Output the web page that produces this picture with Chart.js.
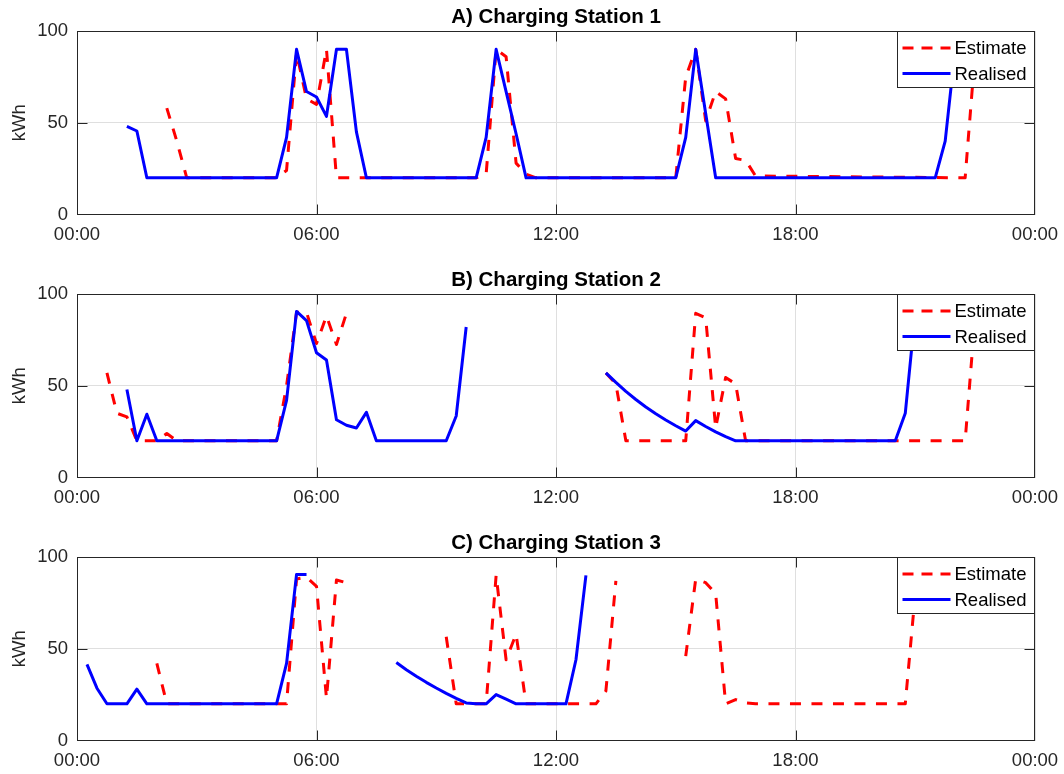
<!DOCTYPE html>
<html>
<head>
<meta charset="utf-8">
<title>Charging stations</title>
<script src="https://cdn.jsdelivr.net/npm/chart.js@4.4.1/dist/chart.umd.min.js"></script>
<style>
  body { margin: 0; background: #fff; }
  #wrap { position: relative; width: 1064px; height: 774px; }
  #wrap canvas { position: absolute; left: 0; }
</style>
</head>
<body>
<div id="wrap">
  <canvas id="chartA" width="1064" height="263" style="top:0px"></canvas>
  <canvas id="chartB" width="1064" height="263" style="top:263px"></canvas>
  <canvas id="chartC" width="1064" height="263" style="top:526px"></canvas>
</div>
<script>
// =================================================================
// 1. DATA (time in hours of the day, energy in kWh, null = gap)
// =================================================================
const panelTitles = ['A) Charging Station 1', 'B) Charging Station 2', 'C) Charging Station 3'];
const seriesNames = ['Estimate', 'Realised'];
const xTickHours = [0, 6, 12, 18, 24];
const xTickLabels = ['00:00', '06:00', '12:00', '18:00', '00:00'];
const yTicks = [0, 50, 100];
const yLabel = 'kWh';

// Station 1
const s1EstTime  = [2.25, 2.5, 2.75, 5.0, 5.25, 5.5, 5.75, 6.0, 6.25, 6.5, 10.0, 10.25, 10.5, 10.75, 11.0, 11.25, 11.5, 15.0, 15.25, 15.5, 15.75, 16.0, 16.25, 16.5, 16.75, 17.0, 22.25, 22.5];
const s1EstValue = [58, 40, 20, 20, 24, 88, 63, 60, 90, 20, 20, 22, 90, 86, 28, 22, 20, 20, 75, 90, 51, 67, 63, 30.5, 29.5, 21, 20, 88];
const s1RealTime  = [1.25, 1.5, 1.75, 5.0, 5.25, 5.5, 5.75, 6.0, 6.25, 6.5, 6.75, 7.0, 7.25, 10.0, 10.25, 10.5, 10.75, 11.0, 11.25, 15.0, 15.25, 15.5, 15.75, 16.0, 21.5, 21.75, 22.0];
const s1RealValue = [48, 45.5, 20, 20, 42, 90, 67, 64, 53.5, 90, 90, 45, 20, 20, 42, 90, 67, 44, 20, 20, 42, 90, 55, 20, 20, 40, 90];

// Station 2
const s2EstTime  = [0.75, 1.0, 1.25, 1.5, 2.0, 2.25, 2.5, 5.0, 5.25, 5.5, 5.75, 6.0, 6.25, 6.5, 6.75, 10.0, 13.25, 13.5, 13.75, 15.25, 15.5, 15.75, 16.0, 16.25, 16.5, 16.75, 22.25, 22.5];
const s2EstValue = [57, 35, 33, 20, 20, 24, 20, 20, 50, 90, 90, 73, 88, 72.5, 89.5, null, 57, 51, 20, 20, 89.5, 87, 27, 54.5, 51, 20, 20, 88];
const s2RealTime  = [1.25, 1.5, 1.75, 2.0, 5.0, 5.25, 5.5, 5.75, 6.0, 6.25, 6.5, 6.75, 7.0, 7.25, 7.5, 9.25, 9.5, 9.75, 11.0, 13.25, 13.5, 13.75, 14.0, 14.25, 14.5, 14.75, 15.0, 15.25, 15.5, 15.75, 16.0, 16.25, 16.5, 20.5, 20.75, 21.0];
const s2RealValue = [48, 20, 34.5, 20, 20, 42, 90.5, 85.5, 68, 64, 31.5, 28.5, 27, 35.5, 20, 20, 33.5, 82, null, 57, 51.8, 46.9, 42.5, 38.4, 34.7, 31.3, 28.2, 25.3, 31, 27.8, 24.9, 22.3, 20, 20, 35, 90];

// Station 3
const s3EstTime  = [2.0, 2.25, 5.0, 5.25, 5.5, 5.75, 6.0, 6.25, 6.5, 6.75, 8.0, 9.25, 9.5, 10.25, 10.5, 10.75, 11.0, 11.25, 13.0, 13.25, 13.5, 14.5, 15.25, 15.5, 15.75, 16.0, 16.25, 16.5, 16.75, 17.0, 20.75, 21.0];
const s3EstValue = [42, 20, 20, 20, 88, 89, 84, 23, 87.5, 86, null, 56.5, 20, 20, 90, 44, 58, 20, 20, 27, 87, null, 46, 88, 86, 80, 20, 22.3, 20.5, 20, 20, 80];
const s3RealTime  = [0.25, 0.5, 0.75, 1.25, 1.5, 1.75, 5.0, 5.25, 5.5, 5.75, 7.0, 8.0, 8.25, 8.5, 8.75, 9.0, 9.25, 9.5, 9.75, 10.0, 10.25, 10.5, 10.75, 11.0, 12.25, 12.5, 12.75];
const s3RealValue = [41.5, 28.5, 20, 20, 28, 20, 20, 42, 90.5, 90.5, null, 42.5, 38.6, 35.0, 31.7, 28.6, 25.7, 23.0, 20.5, 20, 20, 25, 22.5, 20, 20, 44, 90];

// =================================================================
// 2. STYLE HELPERS
// =================================================================
const FONT = '"Liberation Sans", Arial, Helvetica, sans-serif';
const AXIS_COLOR = '#262626';
const EST_COLOR = '#ff0000';
const REAL_COLOR = '#0000ff';

function toPoints(times, values) {
  return times.map((t, i) => ({ x: t, y: values[i] }));
}

// MATLAB-like box, inward ticks, title and legend, drawn over the lines
const matlabFrame = {
  id: 'matlabFrame',
  afterDatasetsDraw(chart, args, opts) {
    const { ctx, chartArea: a, scales: { x, y } } = chart;
    const L = Math.round(a.left) + 0.5, R = Math.round(a.right) - 0.5;
    const T = Math.round(a.top) + 0.5, B = Math.round(a.bottom) - 0.5;
    ctx.save();
    ctx.strokeStyle = AXIS_COLOR;
    ctx.lineWidth = 1;
    ctx.setLineDash([]);
    ctx.beginPath();
    // inner ticks only, the edge ones sit on the box
    xTickHours.slice(1, -1).forEach(v => {
      const px = Math.round(x.getPixelForValue(v)) + 0.5;
      ctx.moveTo(px, B); ctx.lineTo(px, B - 10);
      ctx.moveTo(px, T); ctx.lineTo(px, T + 10);
    });
    yTicks.slice(1, -1).forEach(v => {
      const py = Math.round(y.getPixelForValue(v)) + 0.5;
      ctx.moveTo(L, py); ctx.lineTo(L + 10, py);
      ctx.moveTo(R, py); ctx.lineTo(R - 10, py);
    });
    ctx.stroke();
    ctx.strokeRect(L, T, R - L, B - T);

    // panel title
    ctx.fillStyle = '#000';
    ctx.font = 'bold 20.5px ' + FONT;
    ctx.textAlign = 'center';
    ctx.textBaseline = 'alphabetic';
    ctx.fillText(opts.title, (a.left + a.right) / 2, a.top - 8);

    // legend box, top right inside the axes
    const lw = 137, lh = 56;
    const lx = R - lw, ly = T;
    ctx.fillStyle = '#fff';
    ctx.fillRect(lx, ly, lw, lh);
    ctx.strokeStyle = AXIS_COLOR;
    ctx.strokeRect(lx, ly, lw, lh);

    const rows = [
      { text: seriesNames[0], color: EST_COLOR, dash: [11, 8], cy: ly + 16.5 },
      { text: seriesNames[1], color: REAL_COLOR, dash: [], cy: ly + 42 }
    ];
    rows.forEach(r => {
      ctx.beginPath();
      ctx.strokeStyle = r.color;
      ctx.lineWidth = 3;
      ctx.setLineDash(r.dash);
      ctx.moveTo(lx + 5, r.cy);
      ctx.lineTo(lx + 53, r.cy);
      ctx.stroke();
      ctx.setLineDash([]);
      ctx.fillStyle = '#000';
      ctx.font = '18.5px ' + FONT;
      ctx.textAlign = 'left';
      ctx.textBaseline = 'middle';
      ctx.fillText(r.text, lx + 57, r.cy + 1);
    });
    ctx.restore();
  }
};

// =================================================================
// 3. BUILD ONE PANEL
// =================================================================
function makePanel(canvasId, title, estT, estV, realT, realV) {
  return new Chart(document.getElementById(canvasId), {
    type: 'line',
    data: {
      datasets: [
        {
          label: seriesNames[1],
          data: toPoints(realT, realV),
          borderColor: REAL_COLOR,
          borderWidth: 3,
          borderJoinStyle: 'round',
          pointRadius: 0,
          tension: 0,
          spanGaps: false,
          order: 0
        },
        {
          label: seriesNames[0],
          data: toPoints(estT, estV),
          borderColor: EST_COLOR,
          borderWidth: 3,
          borderDash: [11, 10.5],
          borderJoinStyle: 'round',
          pointRadius: 0,
          tension: 0,
          spanGaps: false,
          order: 1
        }
      ]
    },
    options: {
      responsive: false,
      animation: false,
      devicePixelRatio: 1,
      layout: { padding: { left: 0, top: 31, right: 29, bottom: 4.5 } },
      plugins: {
        legend: { display: false },
        tooltip: { enabled: false },
        title: { display: false },
        matlabFrame: { title: title }
      },
      scales: {
        x: {
          type: 'linear',
          min: 0,
          max: 24,
          afterBuildTicks: s => { s.ticks = xTickHours.map(v => ({ value: v })); },
          afterFit: s => { s.height = 44; s.paddingLeft = 0; s.paddingRight = 0; },
          ticks: {
            callback: (v, i) => xTickLabels[i],
            font: { family: FONT, size: 18.5 },
            color: AXIS_COLOR,
            padding: 9,
            maxRotation: 0,
            autoSkip: false
          },
          grid: { color: '#dfdfdf', drawTicks: false },
          border: { display: false }
        },
        y: {
          min: 0,
          max: 100,
          afterBuildTicks: s => { s.ticks = yTicks.map(v => ({ value: v })); },
          afterFit: s => { s.width = 77; s.paddingTop = 0; s.paddingBottom = 0; },
          ticks: {
            font: { family: FONT, size: 18.5 },
            color: AXIS_COLOR,
            padding: 9
          },
          grid: { color: '#dfdfdf', drawTicks: false },
          border: { display: false },
          title: {
            display: true,
            text: yLabel,
            color: AXIS_COLOR,
            font: { family: FONT, size: 18.5 },
            padding: { top: 9, bottom: 0 }
          }
        }
      }
    },
    plugins: [matlabFrame]
  });
}

makePanel('chartA', panelTitles[0], s1EstTime, s1EstValue, s1RealTime, s1RealValue);
makePanel('chartB', panelTitles[1], s2EstTime, s2EstValue, s2RealTime, s2RealValue);
makePanel('chartC', panelTitles[2], s3EstTime, s3EstValue, s3RealTime, s3RealValue);
</script>
</body>
</html>
